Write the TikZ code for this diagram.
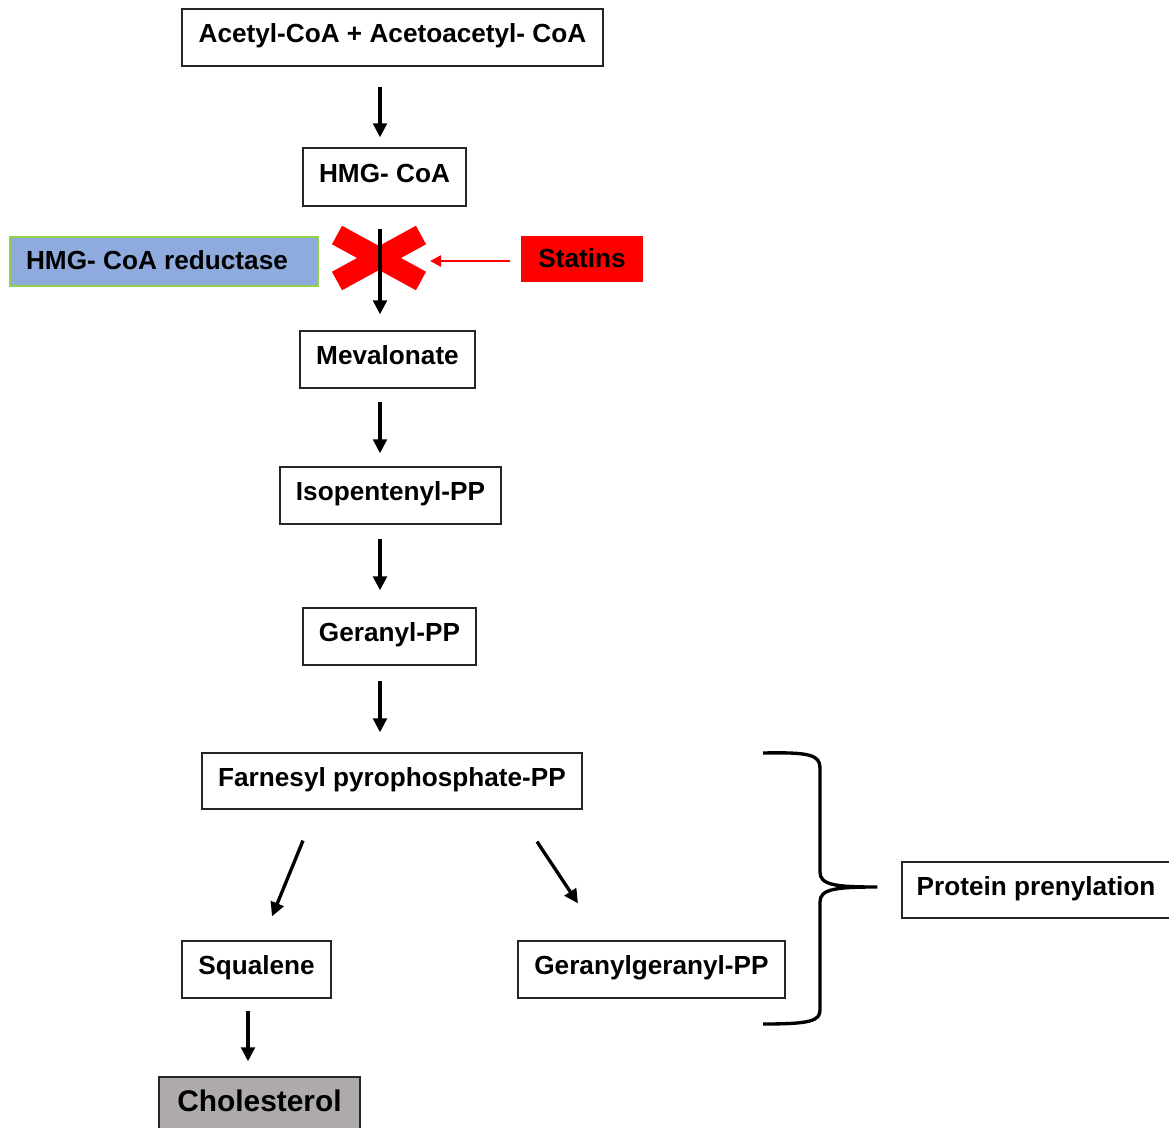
\documentclass[tikz,border=0pt]{standalone}
\usepackage{fontspec}
\setmainfont{Liberation Sans}
\usetikzlibrary{arrows.meta,calc}
\definecolor{redblue}{HTML}{8FAADC}
\definecolor{redgreen}{HTML}{92D050}
\definecolor{cholgrey}{HTML}{AEAAAA}
\begin{document}
\begin{tikzpicture}[x=0.02cm,y=-0.02cm,
  box/.style={draw=black!85, line width=0.7pt, fill=white, inner sep=0pt,
    font=\fontsize{14.9}{16}\selectfont\bfseries, text height=0.37cm, text depth=0.16cm},
  arr/.style={line width=1.9pt, -{Triangle[length=0.28cm,width=0.27cm]}},
  redarr/.style={line width=1.4pt, red, -{Triangle[length=0.22cm,width=0.22cm]}}]
\useasboundingbox (0,0) rectangle (1169,1128);
\fill[white] (0,0) rectangle (1169,1128);
\coordinate (col) at (380,0);
\node[box, minimum width=8.42cm, minimum height=1.14cm] (a) at (392.5,37.5) {Acetyl-CoA + Acetoacetyl- CoA};
\node[box, minimum width=3.26cm, minimum height=1.16cm] (hmg) at (384.5,177) {HMG- CoA};
\node[box, draw=redgreen, fill=redblue, minimum width=6.16cm, minimum height=0.98cm, text depth=0.03cm, text height=0.37cm] (red) at (164,261.5) {\hspace*{-0.28cm}HMG- CoA reductase};
\node[box, draw=red, fill=red, minimum width=2.4cm, minimum height=0.88cm, text depth=0.03cm, text height=0.37cm] (stat) at (582,259) {Statins};
\node[box, minimum width=3.5cm, minimum height=1.14cm] (mev) at (387.5,359.5) {Mevalonate};
\node[box, minimum width=4.42cm, minimum height=1.14cm] (iso) at (390.5,495.5) {Isopentenyl-PP};
\node[box, minimum width=3.46cm, minimum height=1.14cm] (ger) at (389.5,636.5) {Geranyl-PP};
\node[box, minimum width=7.6cm, minimum height=1.12cm] (far) at (392,781) {Farnesyl pyrophosphate-PP};
\node[box, minimum width=2.98cm, minimum height=1.14cm] (squ) at (256.5,969.5) {Squalene};
\node[box, minimum width=5.34cm, minimum height=1.14cm] (gg) at (651.5,969.5) {Geranylgeranyl-PP};
\node[box, fill=cholgrey, minimum width=4.02cm, minimum height=1.12cm, font=\fontsize{17}{19}\selectfont\bfseries, text height=0.43cm, text depth=0.19cm] (chol) at (259.5,1105) {Cholesterol};
\node[box, minimum width=5.36cm, minimum height=1.12cm] (prot) at (1036,890) {Protein prenylation};
% red cross
\coordinate (xc) at (379,258);
\draw[red, line width=12pt] ($(xc)+(-42,-23)$) -- ($(xc)+(42,23)$);
\draw[red, line width=12pt] ($(xc)+(-42,23)$) -- ($(xc)+(42,-23)$);
% arrows
\draw[arr] ($(a.south -| col)+(0,20)$) -- ($(hmg.north -| col)+(0,-10)$);
\draw[arr] ($(hmg.south -| col)+(0,22)$) -- ($(mev.north -| col)+(0,-16)$);
\draw[arr] ($(mev.south -| col)+(0,13)$) -- ($(iso.north -| col)+(0,-13)$);
\draw[arr] ($(iso.south -| col)+(0,14)$) -- ($(ger.north -| col)+(0,-17)$);
\draw[arr] ($(ger.south -| col)+(0,15)$) -- ($(far.north -| col)+(0,-20)$);
\draw[arr] ($(far.south)+(-89,31)$) -- ($(squ.north)+(15.5,-24)$);
\draw[arr] ($(far.south)+(145,32)$) -- ($(gg.north)+(-73.5,-37)$);
\draw[arr] ($(squ.south)+(-8.5,12)$) -- ($(chol.north)+(-11.5,-15)$);
\draw[redarr] ($(stat.west)+(-11,2)$) -- ($(xc)+(51,3)$);
% brace
\draw[line width=1.9pt] (763,753) .. controls (810,752) and (820,755) .. (820,768) -- (820,872)
  .. controls (820,885) and (835,887) .. ($(prot.west)+(-24,-3)$)
  .. controls (835,887) and (820,889) .. (820,902) -- (820,1010)
  .. controls (820,1021) and (810,1024) .. (763,1024);
\end{tikzpicture}
\end{document}
